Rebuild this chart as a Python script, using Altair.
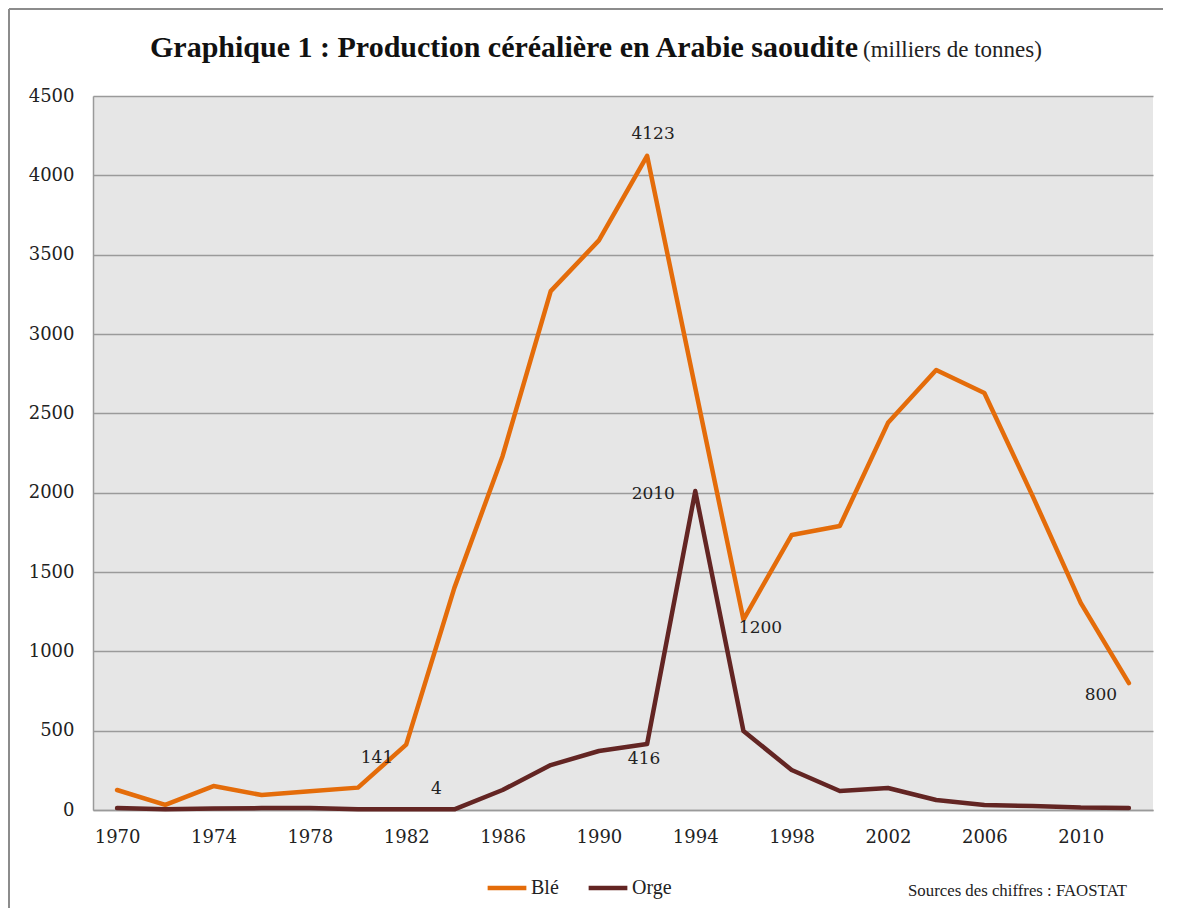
import altair as alt
import pandas as pd

years = list(range(1970, 2013, 2))
ble = [126, 32, 151, 94, 118, 141, 412, 1400, 2230, 3270, 3590, 4123, 2660, 1200,
       1733, 1790, 2440, 2773, 2628, 1980, 1305, 800]
orge = [12, 5, 10, 12, 12, 5, 5, 4, 126, 283, 372, 416, 2010, 498,
        252, 120, 139, 63, 32, 25, 15, 12]
series = ["Blé", "Orge"]
colors = ["#E46C0A", "#632523"]
y_ticks = list(range(0, 4501, 500))
x_ticks = list(range(1970, 2011, 4))

rows = []
for y, b, o in zip(years, ble, orge):
    rows.append({"annee": y, "valeur": b, "serie": "Blé"})
    rows.append({"annee": y, "valeur": o, "serie": "Orge"})
df = pd.DataFrame(rows)

NUMFONT = "DejaVu Serif"
TXTFONT = "Liberation Serif"

base = alt.Chart(df)

x_enc = alt.X("annee:Q", scale=alt.Scale(domain=[1969, 2013], nice=False, zero=False),
              axis=alt.Axis(values=x_ticks, format="d", title=None, grid=False, ticks=False,
                            labelPadding=18, labelFont=NUMFONT, labelFontSize=18,
                            labelColor="#222222", domainColor="#9a9a9a", domainWidth=1.5))
y_enc = alt.Y("valeur:Q", scale=alt.Scale(domain=[0, 4500], nice=False),
              axis=alt.Axis(values=y_ticks, format="d", title=None, grid=True,
                            gridColor="#9a9a9a", gridWidth=1.5, ticks=False, labelPadding=19,
                            labelFont=NUMFONT, labelFontSize=18, labelColor="#222222",
                            domainColor="#9a9a9a", domainWidth=1.5))

lines = base.mark_line(strokeWidth=4.5, strokeCap="round", strokeJoin="round").encode(
    x=x_enc,
    y=y_enc,
    color=alt.Color("serie:N", scale=alt.Scale(domain=series, range=colors),
                    legend=alt.Legend(title=None, orient="none", legendX=392, legendY=770,
                                      direction="horizontal", symbolType="stroke",
                                      symbolSize=1500, symbolStrokeWidth=4.5,
                                      labelFont=TXTFONT, labelFontSize=20,
                                      labelColor="#222222", columnPadding=20,
                                      labelOffset=2, padding=0)),
    detail="serie:N",
)


def label(serie, year, dx, dy):
    return base.transform_filter(
        (alt.datum.serie == serie) & (alt.datum.annee == year)
    ).mark_text(dx=dx, dy=dy, font=NUMFONT, fontSize=17, color="#222222",
                baseline="middle", align="center").encode(
        x="annee:Q", y="valeur:Q", text="valeur:Q")


labels = [
    label("Blé", 1980, 19, -30),
    label("Orge", 1984, -18, -20),
    label("Blé", 1992, 6, -22),
    label("Orge", 1994, -42, 3),
    label("Blé", 1996, 17, 8),
    label("Orge", 1992, -3, 15),
    label("Blé", 2012, -28, 12),
]

title = alt.Chart(pd.DataFrame({"t": ["Graphique 1 : Production céréalière en Arabie saoudite"]})).mark_text(
    font=TXTFONT, fontSize=30, fontWeight="bold", align="left", baseline="alphabetic",
    color="#111111").encode(x=alt.value(57), y=alt.value(-39), text="t:N")
subtitle = alt.Chart(pd.DataFrame({"t": ["(milliers de tonnes)"]})).mark_text(
    font=TXTFONT, fontSize=23, align="left", baseline="alphabetic",
    color="#222222").encode(x=alt.value(770), y=alt.value(-39), text="t:N")
source = alt.Chart(pd.DataFrame({"t": ["Sources des chiffres : FAOSTAT"]})).mark_text(
    font=TXTFONT, fontSize=16.8, align="right", baseline="alphabetic",
    color="#222222").encode(x=alt.value(1034), y=alt.value(800), text="t:N")

frame_left = alt.Chart(pd.DataFrame({"a": [0]})).mark_rule(color="#8c8c8c", strokeWidth=2).encode(
    x=alt.value(-84), y=alt.value(-87), y2=alt.value(920))
frame_top = alt.Chart(pd.DataFrame({"a": [0]})).mark_rule(color="#8c8c8c", strokeWidth=2).encode(
    x=alt.value(-84), x2=alt.value(1200), y=alt.value(-87))

chart = alt.layer(lines, *labels, title, subtitle, source, frame_left, frame_top).properties(
    width=1060, height=714,
    padding={"left": 85, "top": 88, "right": 10, "bottom": 98},
    autosize=alt.AutoSizeParams(type="none"),
    background="white",
).configure_view(fill="#e6e6e6", stroke=None)

chart.save("out.html", embed_options={"renderer": "svg", "actions": False})
